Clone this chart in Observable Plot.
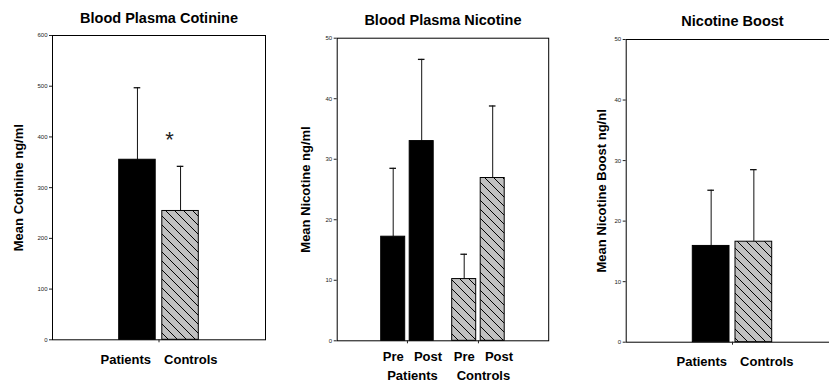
<!DOCTYPE html>
<html><head><meta charset="utf-8">
<script src="https://cdn.jsdelivr.net/npm/d3@7"></script>
<script src="https://cdn.jsdelivr.net/npm/@observablehq/plot@0.6"></script>
<style>
html,body{margin:0;padding:0;background:#fff;overflow:hidden}
#chart{position:relative;width:829px;height:383px;overflow:hidden;background:#fff}
#chart svg{position:absolute;top:0;overflow:visible}
</style></head><body><div id="chart"></div>
<script>
// ---- Panel 1: Blood Plasma Cotinine ----
const cotinineCategories = ["Patients", "Controls"];
const cotinineMeans = [355, 254];
const cotinineErrors = [142, 88];
const cotinineMarkers = ["", "*"];
const cotinineTicks = [0, 100, 200, 300, 400, 500, 600];

// ---- Panel 2: Blood Plasma Nicotine ----
const nicotineGroups = ["Patients", "Controls"];
const nicotinePhases = ["Pre", "Post"];
const nicotinePreMeans = [17.2, 10.2];
const nicotinePreErrors = [11.3, 4.1];
const nicotinePostMeans = [33.0, 26.9];
const nicotinePostErrors = [13.5, 11.9];
const nicotineTicks = [0, 10, 20, 30, 40, 50];

// ---- Panel 3: Nicotine Boost ----
const boostCategories = ["Patients", "Controls"];
const boostMeans = [15.9, 16.6];
const boostErrors = [9.2, 11.9];
const boostTicks = [0, 10, 20, 30, 40, 50];

const FONT = "'Liberation Sans', Arial, Helvetica, sans-serif";
const chart = document.getElementById("chart");

function hatchDefs(id) {
  return () => {
    const defs = d3.create("svg:defs");
    const p = defs.append("pattern").attr("id", id).attr("patternUnits", "userSpaceOnUse")
      .attr("width", 9).attr("height", 9);
    p.append("rect").attr("width", 9).attr("height", 9).attr("fill", "#c0c0c0");
    p.append("path").attr("d", "M0,0L9,9M-1,8L1,10M8,-1L10,1")
      .attr("stroke", "#000").attr("stroke-width", 1).attr("fill", "none");
    return defs.node();
  };
}

function panel(cfg) {
  const {left, svgWidth, frame, groups, rows, barW, gap, groupStep, yMax, yTicks,
         title, titleDy, yLabel, yLabelDx, labelDy, labelDx, lineHeight, tickFormat, hatchId} = cfg;
  const [fl, ft, fr, fb] = frame;
  const W = fr - fl;
  const B = 2 * barW + gap;
  const n = groups.length;
  let paddingInner, paddingOuter;
  if (n === 1) { paddingInner = 0; paddingOuter = (W / B - 1) / 2; }
  else { paddingInner = 1 - B / groupStep; paddingOuter = (W / groupStep - n + paddingInner) / 2; }
  const off = (barW + gap) / 2;
  const capHalf = 3.3;
  const fillOf = (d) => d.hatched ? `url(#${hatchId})` : "black";
  const marks = [hatchDefs(hatchId)];
  for (const slot of [0, 1]) {
    const data = rows.filter(r => r.slot === slot);
    const capLeft = slot === 0 ? barW / 2 - capHalf : B - barW / 2 - capHalf;
    marks.push(
      Plot.ruleX(data, {x: "group", y1: "mean", y2: d => d.mean + d.err, dx: slot ? off : -off, stroke: "#111", strokeWidth: 1}),
      Plot.tickY(data, {x: "group", y: d => d.mean + d.err, insetLeft: capLeft, insetRight: B - capLeft - 2 * capHalf, stroke: "#111", strokeWidth: 1.3}),
      Plot.barY(data, {x: "group", y: "mean", fill: fillOf, stroke: "black", strokeWidth: 1,
        insetLeft: slot === 0 ? 0 : B - barW, insetRight: slot === 0 ? B - barW : 0})
    );
  }
  marks.push(
    Plot.frame({stroke: "black", strokeWidth: 1}),
    Plot.axisY({ticks: yTicks, tickSize: 3, tickPadding: 2, fontSize: 6, label: null, color: "#222"}),
    Plot.axisX({tickSize: 3, fill: "none", label: null, stroke: "#222"}),
    Plot.text(groups, {x: d => d, text: tickFormat, frameAnchor: "bottom", lineAnchor: "top",
      dy: labelDy, dx: labelDx, fontSize: 13, fontWeight: "bold", lineHeight: lineHeight || 1.5, fill: "black"}),
    Plot.text([yLabel], {frameAnchor: "left", textAnchor: "middle", lineAnchor: "middle", rotate: -90, dx: yLabelDx, fontSize: 13, fontWeight: "bold", fill: "black"}),
    Plot.text([title], {frameAnchor: "top", lineAnchor: "middle", dy: titleDy, fontSize: 14.5, fontWeight: "bold", fill: "black"})
  );
  if (cfg.extra) marks.push(...cfg.extra(off));
  const svg = Plot.plot({
    width: svgWidth, height: 383,
    marginLeft: fl, marginTop: ft, marginRight: svgWidth - fr, marginBottom: 383 - fb,
    style: {fontFamily: FONT, background: "transparent", overflow: "visible", color: "black"},
    x: {type: "band", domain: groups, paddingInner, paddingOuter, align: 0.5, round: false},
    y: {domain: [0, yMax], range: [fb, ft]},
    marks
  });
  svg.style.left = left + "px";
  chart.appendChild(svg);
}

// Panel 1
{
  const group = cotinineCategories.join("\u2002\u2002");
  const rows = cotinineCategories.map((c, i) => ({group, slot: i, hatched: i === 1, mean: cotinineMeans[i], err: cotinineErrors[i], marker: cotinineMarkers[i]}));
  panel({
    left: 0, svgWidth: 280, frame: [52, 35, 265, 339.3], groups: [group], rows,
    barW: 36.5, gap: 6.6, yMax: 600, yTicks: cotinineTicks,
    title: "Blood Plasma Cotinine", titleDy: -17, yLabel: "Mean Cotinine ng/ml", yLabelDx: -34,
    labelDy: 10.5, labelDx: 0, tickFormat: d => d, hatchId: "hatch1",
    extra: (off) => [Plot.text(rows.filter(r => r.marker), {x: "group", y: d => d.mean + d.err, text: "marker",
      dx: off - 11, dy: -26, fontSize: 22, fill: "#222"})]
  });
}
// Panel 2
{
  const rows = [];
  nicotineGroups.forEach((g, i) => {
    rows.push({group: g, slot: 0, hatched: i === 1, mean: nicotinePreMeans[i], err: nicotinePreErrors[i]});
    rows.push({group: g, slot: 1, hatched: i === 1, mean: nicotinePostMeans[i], err: nicotinePostErrors[i]});
  });
  panel({
    left: 280, svgWidth: 270, frame: [56.7, 37.7, 268.2, 340.3], groups: nicotineGroups, rows,
    barW: 24, gap: 4.5, groupStep: 71, yMax: 50, yTicks: nicotineTicks,
    title: "Blood Plasma Nicotine", titleDy: -18, yLabel: "Mean Nicotine ng/ml", yLabelDx: -31.5,
    labelDy: 7, labelDx: 5, lineHeight: 1.45, tickFormat: d => nicotinePhases.join("\u2002 ") + "\n" + d, hatchId: "hatch2"
  });
}
// Panel 3
{
  const group = boostCategories.join("\u2002\u2002");
  const rows = boostCategories.map((c, i) => ({group, slot: i, hatched: i === 1, mean: boostMeans[i], err: boostErrors[i]}));
  panel({
    left: 550, svgWidth: 300, frame: [75.7, 39, 288.3, 341.7], groups: [group], rows,
    barW: 36.7, gap: 6, yMax: 50, yTicks: boostTicks,
    title: "Nicotine Boost", titleDy: -18, yLabel: "Mean Nicotine Boost ng/nl", yLabelDx: -24,
    labelDy: 10, labelDx: 2.5, tickFormat: d => d, hatchId: "hatch3"
  });
}
</script></body></html>
